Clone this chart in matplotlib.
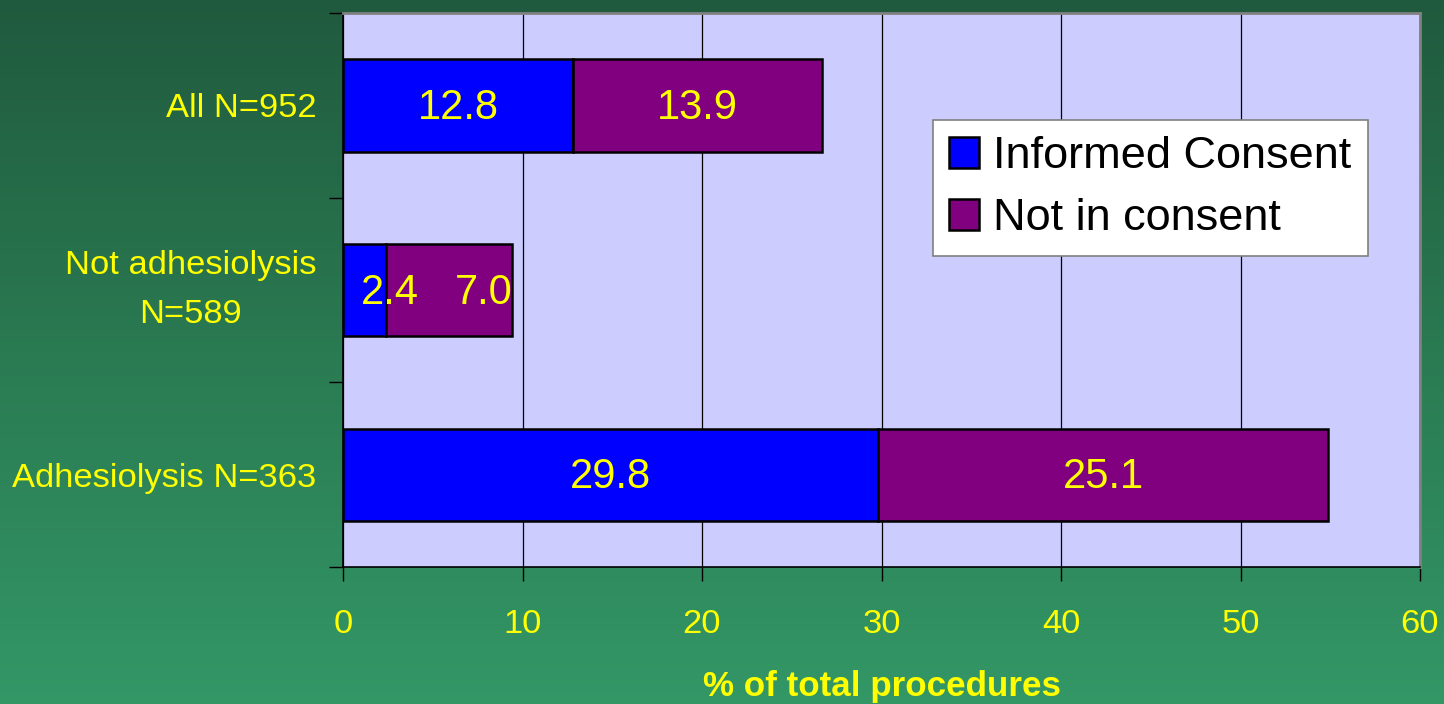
import matplotlib
matplotlib.use("Agg")
import matplotlib.pyplot as plt
import matplotlib.transforms as mtransforms
import numpy as np
from matplotlib.colors import LinearSegmentedColormap

categories = ["Adhesiolysis N=363", "Not adhesiolysis\nN=589", "All N=952"]
informed = [29.8, 2.4, 12.8]
not_consent = [25.1, 7.0, 13.9]
series_names = ["Informed Consent", "Not in consent"]
xticks = [0, 10, 20, 30, 40, 50, 60]

plt.rcParams['font.family'] = ['Liberation Sans', 'DejaVu Sans']

fig = plt.figure(figsize=(14.44, 7.04), dpi=100)

# gradient background
bg = fig.add_axes([0, 0, 1, 1], zorder=-10)
cmap = LinearSegmentedColormap.from_list("g", ["#205a3e", "#2a7a52", "#339766"])
grad = np.linspace(0, 1, 256).reshape(-1, 1)
bg.imshow(grad, aspect='auto', cmap=cmap, extent=[0, 1, 0, 1], origin='upper')
bg.axis('off')

ax = fig.add_axes([343/1444, 1-567/704, (1420-343)/1444, (567-13)/704])
ax.set_facecolor("#ccccff")

y = np.arange(len(categories))
h = 0.5
b1 = ax.barh(y, informed, height=h, color="#0000ff", edgecolor="black", linewidth=1.8,
             label=series_names[0], zorder=3)
b2 = ax.barh(y, not_consent, left=informed, height=h, color="#800080", edgecolor="black",
             linewidth=1.8, label=series_names[1], zorder=3)

# label shifts (points) used for the narrow bars, mimicking the original layout
shift_informed = [0, 18, 0]
shift_not = [0, 25, 0]
for vals, lefts, shifts in [(informed, [0]*3, shift_informed),
                            (not_consent, informed, shift_not)]:
    for yi, v, l, s in zip(y, vals, lefts, shifts):
        ax.annotate(f"{v:.1f}", xy=(l + v/2, yi), xytext=(s, -2), textcoords='offset points',
                    ha='center', va='center', color='yellow', fontsize=30, zorder=4)

ax.set_xlim(0, 60)
ax.set_ylim(-0.5, 2.5)
ax.set_xticks(xticks)
ax.set_xticklabels([str(t) for t in xticks])
ax.set_yticks(y)
ax.set_yticklabels(categories, multialignment='center', linespacing=1.75)
shift = mtransforms.ScaledTranslation(0, -5/100, fig.dpi_scale_trans)
for lab in ax.get_yticklabels():
    if "\n" in lab.get_text():
        lab.set_va('center')
        lab.set_transform(lab.get_transform() + shift)
ax.set_yticks([-0.5, 0.5, 1.5, 2.5], minor=True)
ax.tick_params(axis='y', which='major', length=0, pad=19, labelsize=24.8, labelcolor='yellow')
ax.tick_params(axis='y', which='minor', length=10, width=1, color='black', direction='out')
ax.tick_params(axis='x', which='major', length=10, width=1, color='black', direction='out',
               pad=20, labelsize=24.8, labelcolor='yellow')

ax.grid(axis='x', color='black', linewidth=0.9, zorder=1)
ax.set_axisbelow(True)

for s in ['top', 'right']:
    ax.spines[s].set_color('#808080')
    ax.spines[s].set_linewidth(2)
for s in ['left', 'bottom']:
    ax.spines[s].set_color('black')
    ax.spines[s].set_linewidth(1.2)

ax.set_xlabel("% of total procedures", color='yellow', fontsize=25.2, fontweight='bold', labelpad=22)

leg = ax.legend(handles=[b1, b2], loc='upper left',
                bbox_to_anchor=((933-343)/(1420-343), 1-(120-13)/(567-13)),
                fontsize=32.5, frameon=True, fancybox=False, framealpha=1,
                edgecolor='#808080', handlelength=0.67, handleheight=0.67,
                handletextpad=0.31, borderpad=0.36, labelspacing=0.47, borderaxespad=0)
leg.get_frame().set_linewidth(1.2)

fig.savefig("out.png", dpi=100)
